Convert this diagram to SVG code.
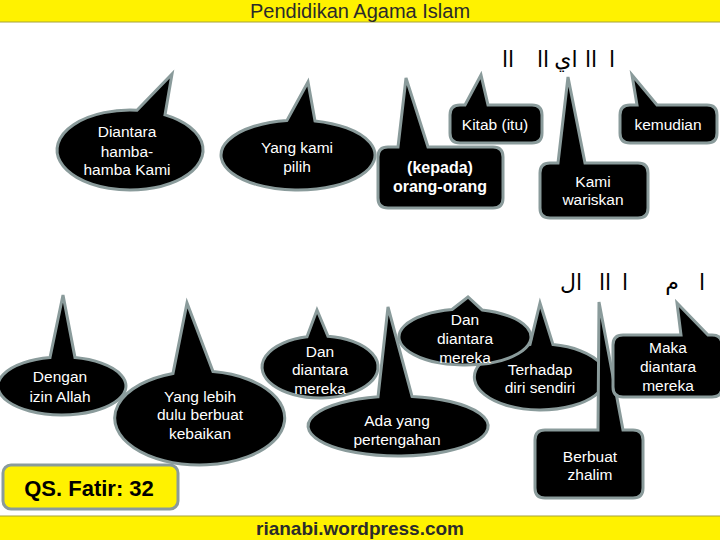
<svg xmlns="http://www.w3.org/2000/svg" width="720" height="540" viewBox="0 0 720 540">
<style>
.bub{fill:#000;stroke:#8a9b9b;stroke-width:3;stroke-linejoin:miter}
.t{font-family:"Liberation Sans",Arial,sans-serif;font-size:15.5px;fill:#fff;text-anchor:middle}
.tb{font-family:"Liberation Sans",Arial,sans-serif;font-size:16px;font-weight:bold;fill:#fff;text-anchor:middle}
.ar{font-family:"DejaVu Sans",sans-serif;font-size:22px;fill:#000;text-anchor:middle}
.ban{fill:#FFF200;stroke:#a6a23a;stroke-width:1}
</style>
<rect width="720" height="540" fill="#fff"/>
<g id="header">
<rect class="ban" x="-1" y="-1" width="722" height="23"/>
<text x="360" y="18" font-family="'Liberation Sans',Arial,sans-serif" font-size="20" fill="#2b2b2b" text-anchor="middle">Pendidikan Agama Islam</text>
</g>
<g id="arabic">
<text class="ar" x="508" y="67">اا</text>
<text class="ar" x="543" y="67">اا</text>
<text class="ar" x="566" y="67">اي</text>
<text class="ar" x="591" y="67">اا</text>
<text class="ar" x="612" y="67">ا</text>
<text class="ar" x="571" y="290">ال</text>
<text class="ar" x="605" y="290">اا</text>
<text class="ar" x="625" y="290">ا</text>
<text class="ar" x="672" y="290">م</text>
<text class="ar" x="702" y="290">ا</text>
</g>
<g id="connectors"></g>
<g id="n-diantara">
<path class="bub" d="M137 110.2 L172 74 L165 114.9 A73 40 0 1 1 137 110.2 Z"/>
<text class="t" x="127" y="137">Diantara</text>
<text class="t" x="127" y="157">hamba-</text>
<text class="t" x="127" y="175">hamba Kami</text>
</g>
<g id="n-yangkami">
<path class="bub" d="M287 120.4 L308 82 L315 120.9 A77 35 0 1 1 287 120.4 Z"/>
<text class="t" x="297" y="153">Yang kami</text>
<text class="t" x="297" y="172">pilih</text>
</g>
<g id="n-kepada">
<path class="bub" d="M388 147 L398 147 L406 78 L428 147 L493 147 Q503 147 503 157 L503 198 Q503 208 493 208 L388 208 Q378 208 378 198 L378 157 Q378 147 388 147Z"/>
<text class="tb" x="440" y="173">(kepada)</text>
<text class="tb" x="440" y="192">orang-orang</text>
</g>
<g id="n-kitab">
<path class="bub" d="M460 105 L465 105 L481 75 L488 105 L532 105 Q542 105 542 115 L542 133 Q542 143 532 143 L460 143 Q450 143 450 133 L450 115 Q450 105 460 105Z"/>
<text class="t" x="495" y="130">Kitab (itu)</text>
</g>
<g id="n-kemudian">
<path class="bub" d="M630 105 L637 105 L632 75 L657 105 L707 105 Q717 105 717 115 L717 133 Q717 143 707 143 L630 143 Q620 143 620 133 L620 115 Q620 105 630 105Z"/>
<text class="t" x="668" y="130">kemudian</text>
</g>
<g id="n-kamiwariskan">
<path class="bub" d="M550 163 L558 163 L568 77 L585 163 L638 163 Q648 163 648 173 L648 208 Q648 218 638 218 L550 218 Q540 218 540 208 L540 173 Q540 163 550 163Z"/>
<text class="t" x="593" y="187">Kami</text>
<text class="t" x="593" y="205">wariskan</text>
</g>
<g id="n-dengan">
<path class="bub" d="M50 357.5 L63 295 L75 357.6 A64 29 0 1 1 50 357.5 Z"/>
<text class="t" x="60" y="382">Dengan</text>
<text class="t" x="60" y="402">izin Allah</text>
</g>
<g id="n-yanglebih">
<path class="bub" d="M173 373.4 L187 303 L213 371.6 A85 47 0 1 1 173 373.4 Z"/>
<text class="t" x="200" y="402">Yang lebih</text>
<text class="t" x="200" y="420">dulu berbuat</text>
<text class="t" x="200" y="439">kebaikan</text>
</g>
<g id="n-dan1">
<path class="bub" d="M307 336.8 L317 310 L328 336.3 A58 31 0 1 1 307 336.8 Z"/>
<text class="t" x="320" y="357">Dan</text>
<text class="t" x="320" y="375">diantara</text>
<text class="t" x="320" y="394">mereka</text>
</g>
<g id="n-adayang">
<path class="bub" d="M378 396.8 L388 307 L412 396.4 A90 30 0 1 1 378 396.8 Z"/>
<text class="t" x="397" y="426">Ada yang</text>
<text class="t" x="397" y="445">pertengahan</text>
</g>
<g id="n-terhadap">
<path class="bub" d="M530 344.4 L540 303 L553 344.6 A66 33 0 1 1 530 344.4 Z"/>
<text class="t" x="540" y="375">Terhadap</text>
<text class="t" x="540" y="393">diri sendiri</text>
</g>
<g id="n-dan2">
<path class="bub" d="M452 309.5 L468 297 L482 309.9 A66 28 0 1 1 452 309.5 Z"/>
<text class="t" x="465" y="325">Dan</text>
<text class="t" x="465" y="344">diantara</text>
<text class="t" x="465" y="363">mereka</text>
</g>
<g id="n-berbuat">
<path class="bub" d="M545 430 L598 430 L599 302 L623 430 L633 430 Q643 430 643 440 L643 488 Q643 498 633 498 L545 498 Q535 498 535 488 L535 440 Q535 430 545 430Z"/>
<text class="t" x="590" y="462">Berbuat</text>
<text class="t" x="590" y="480">zhalim</text>
</g>
<g id="n-maka">
<path class="bub" d="M623 335 L681 335 L677 303 L708 335 L712 335 Q722 335 722 345 L722 387 Q722 397 712 397 L623 397 Q613 397 613 387 L613 345 Q613 335 623 335Z"/>
<text class="t" x="668" y="353">Maka</text>
<text class="t" x="668" y="372">diantara</text>
<text class="t" x="668" y="391">mereka</text>
</g>
<g id="n-qs">
<rect x="3" y="465" width="175" height="44" rx="8" fill="#FFF200" stroke="#8a9b9b" stroke-width="3"/>
<text x="89" y="496" font-family="'Liberation Sans',Arial,sans-serif" font-size="22" font-weight="bold" fill="#000" text-anchor="middle">QS. Fatir: 32</text>
</g>
<g id="footer">
<rect class="ban" x="-1" y="516" width="722" height="25"/>
<text x="360" y="535" font-family="'Liberation Sans',Arial,sans-serif" font-size="19" font-weight="bold" fill="#2b2b2b" text-anchor="middle">rianabi.wordpress.com</text>
</g>
</svg>
